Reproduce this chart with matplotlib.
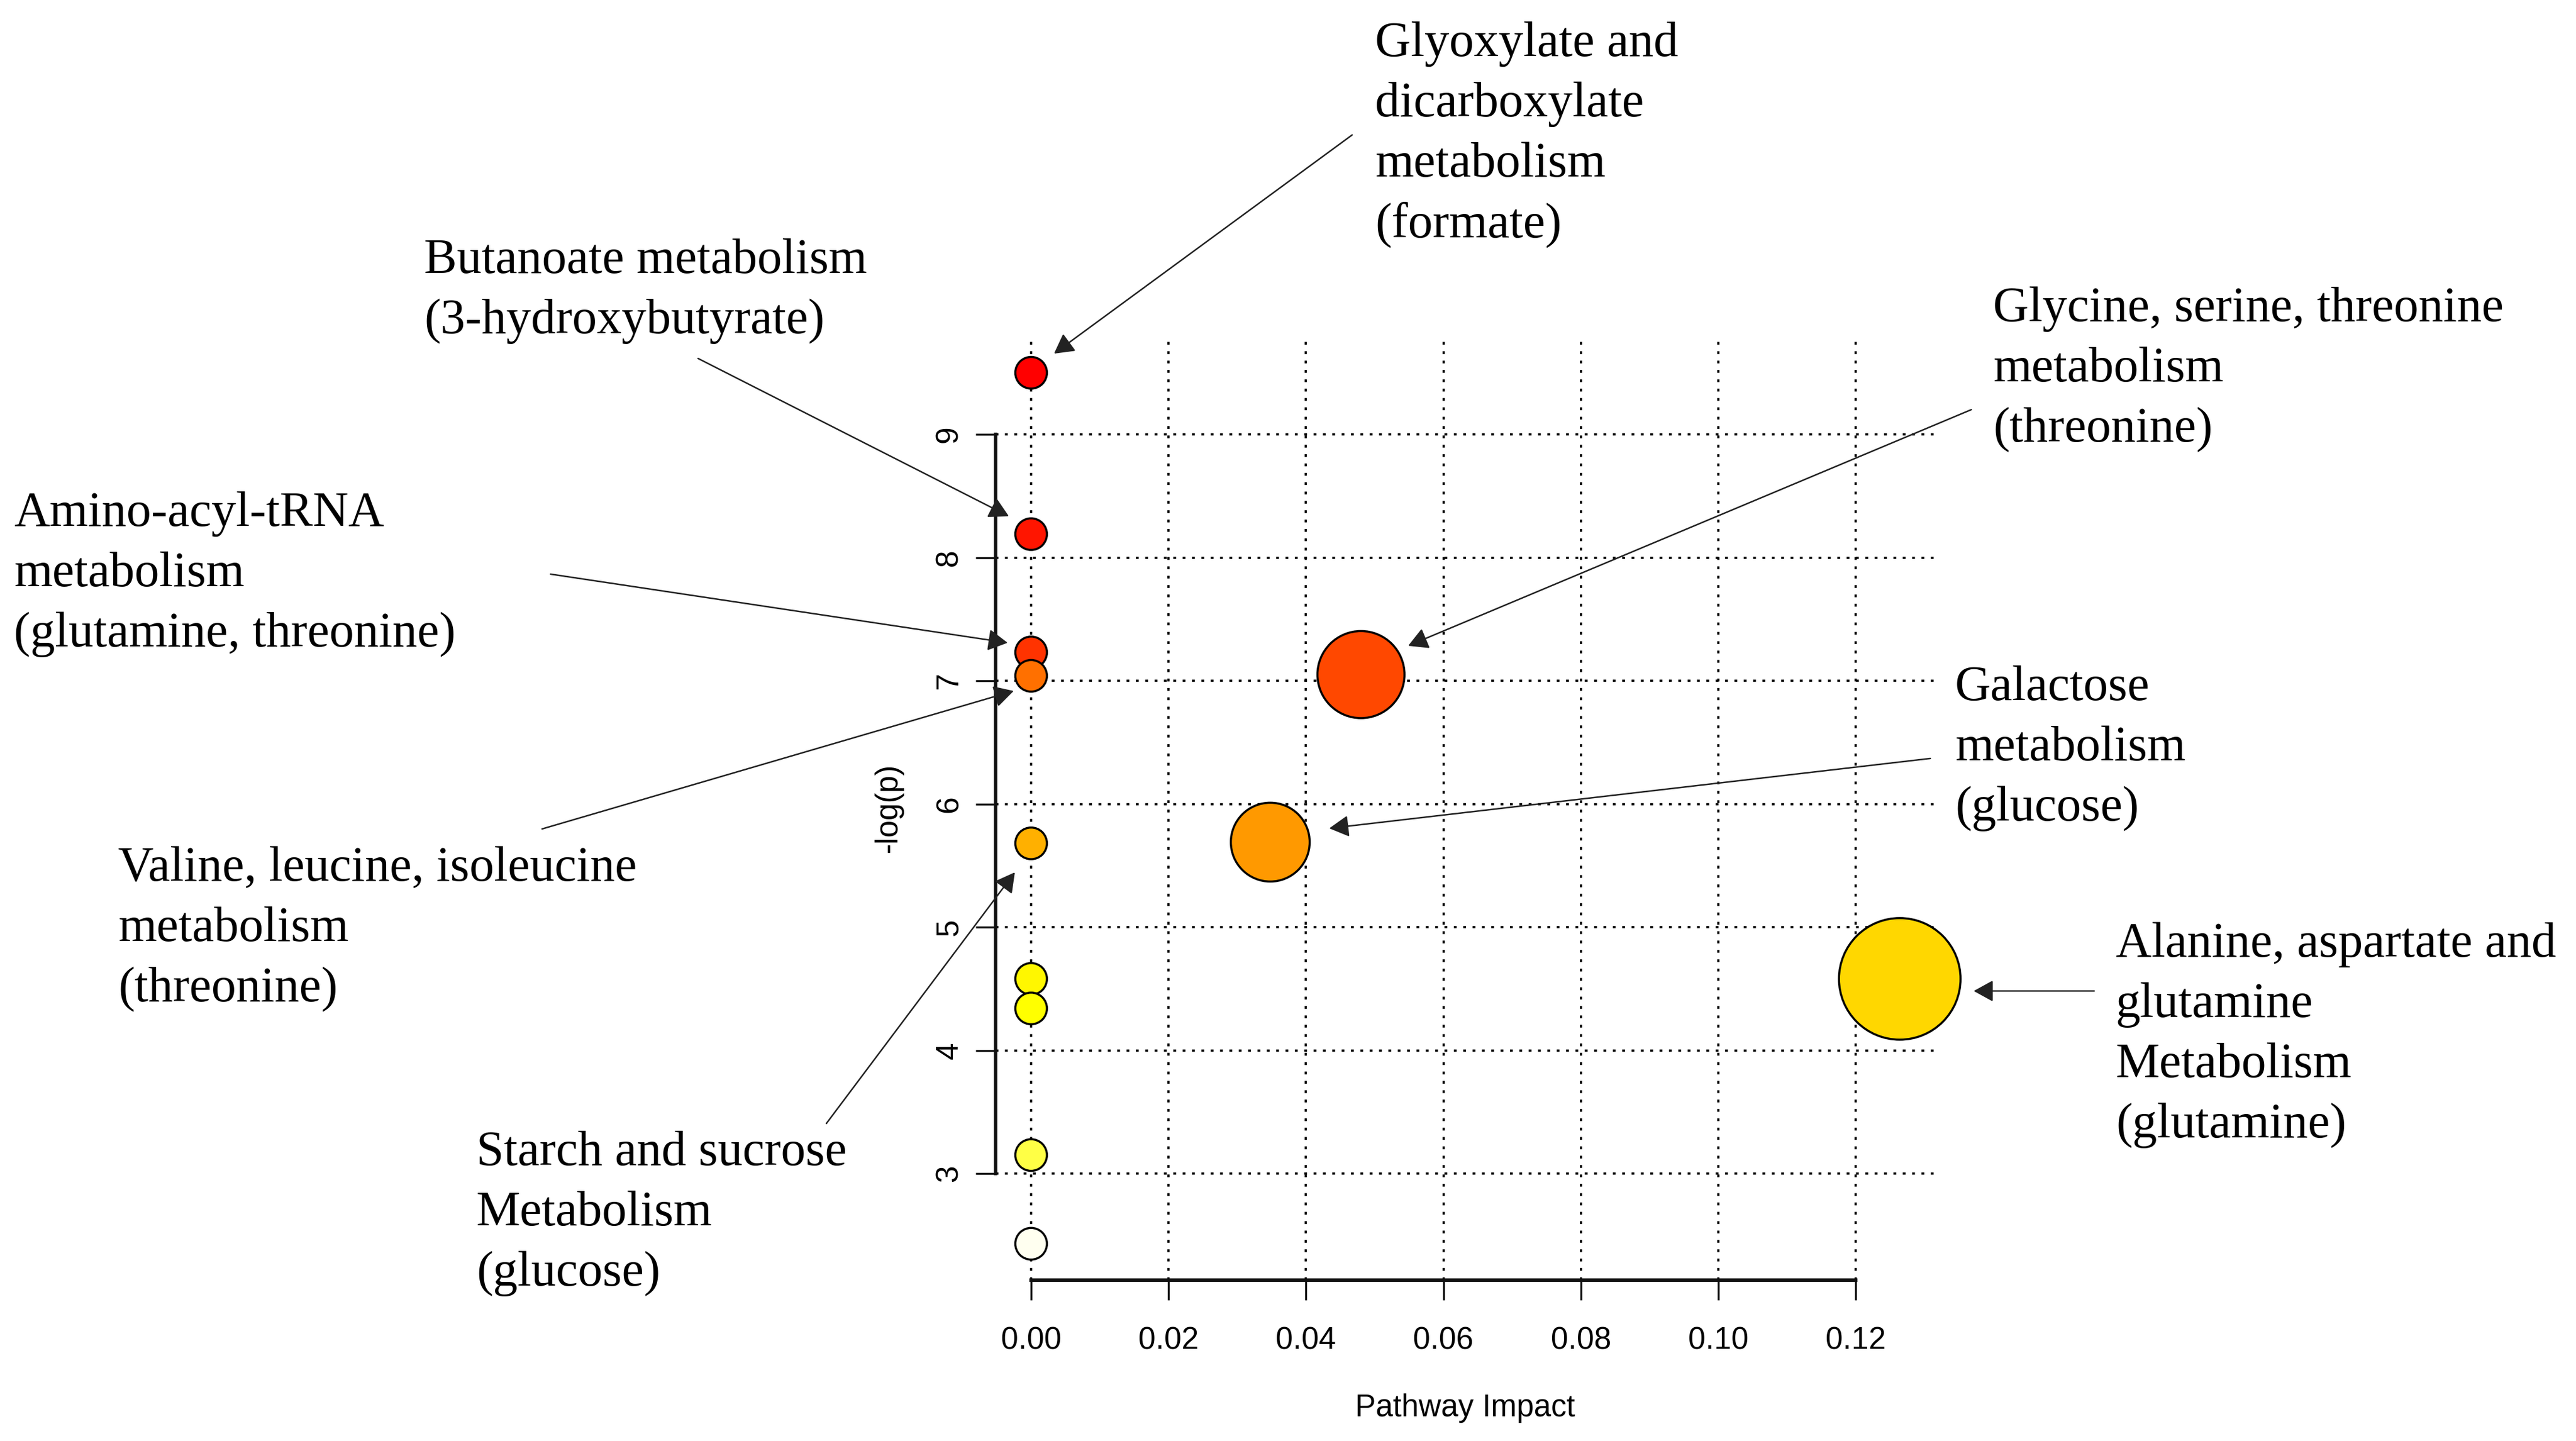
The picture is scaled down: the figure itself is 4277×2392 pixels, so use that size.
import numpy as np
import matplotlib
matplotlib.use("Agg")
import matplotlib.pyplot as plt
from matplotlib.patches import FancyArrowPatch

# ---------------- data ----------------
neg_log_p = [9.50, 8.19, 7.23, 7.05, 7.04, 5.69, 5.68, 4.58, 4.58, 4.34, 3.15, 2.43]
impact    = [0.0, 0.0, 0.0, 0.048, 0.0, 0.0348, 0.0, 0.1264, 0.0, 0.0, 0.0, 0.0]
point_colors = ['#FF0000', '#FF1500', '#FF3300', '#FF4800', '#FF7000', '#FF9900',
                '#FFB000', '#FFD700', '#FFF700', '#FFFF00', '#FFFF45', '#FFFFF0']

x_ticks = [0.00, 0.02, 0.04, 0.06, 0.08, 0.10, 0.12]
x_tick_labels = ['0.00', '0.02', '0.04', '0.06', '0.08', '0.10', '0.12']
y_ticks = [3, 4, 5, 6, 7, 8, 9]
y_tick_labels = ['3', '4', '5', '6', '7', '8', '9']

x_label = 'Pathway Impact'
y_label = '-log(p)'

label_lines = [
    ['Glyoxylate and', 'dicarboxylate', 'metabolism', '(formate)'],
    ['Butanoate metabolism', '(3-hydroxybutyrate)'],
    ['Glycine, serine, threonine', 'metabolism', '(threonine)'],
    ['Amino-acyl-tRNA', 'metabolism', '(glutamine, threonine)'],
    ['Galactose', 'metabolism', '(glucose)'],
    ['Valine, leucine, isoleucine', 'metabolism', '(threonine)'],
    ['Alanine, aspartate and', 'glutamine', 'Metabolism', '(glutamine)'],
    ['Starch and sucrose', 'Metabolism', '(glucose)'],
]

# ---------------- layout (pixels of a 4277 x 2392 canvas) ----------------
W, H = 4277, 2392
DPI = 100
PT = DPI / 72.0

# text block: left x, first baseline y (from top)
label_pos = [(2283, 93), (704, 453), (3309, 533), (23, 873),
             (3246, 1162), (196, 1462), (3513, 1588), (791, 1934)]
line_step = 100
# arrows: tail (x, y) -> tip (x, y), pixels from top-left
arrow_pos = [((2245, 224), (1750, 587)),
             ((1159, 595), (1675, 857)),
             ((3273, 680), (2338, 1072)),
             ((914, 953), (1673, 1067)),
             ((3205, 1259), (2207, 1375)),
             ((900, 1376), (1683, 1147)),
             ((3477, 1645), (3277, 1645)),
             ((1372, 1865), (1685, 1448))]

fig = plt.figure(figsize=(W / DPI, H / DPI), dpi=DPI)
fig.patch.set_facecolor('white')

ax_left, ax_right, ax_top, ax_bottom = 1653, 3218, 557, 2125
ax = fig.add_axes([ax_left / W, 1 - ax_bottom / H,
                   (ax_right - ax_left) / W, (ax_bottom - ax_top) / H])
ax.set_xlim(-0.00517, 0.13199)
ax.set_ylim(2.1345, 9.802)

# grid
ax.set_axisbelow(True)
ax.grid(True, color='black', linestyle=(0, (1.3, 3.0)), linewidth=2.6)

# spines (R style)
for s in ['top', 'right']:
    ax.spines[s].set_visible(False)
ax.spines['left'].set_bounds(3, 9)
ax.spines['bottom'].set_bounds(0, 0.12)
ax.spines['left'].set_linewidth(4.0)
ax.spines['bottom'].set_linewidth(4.2)
ax.spines['left'].set_color('#111111')
ax.spines['bottom'].set_color('#111111')

ax.set_xticks(x_ticks)
ax.set_xticklabels(x_tick_labels, fontfamily='Liberation Sans', fontsize=37)
ax.set_yticks(y_ticks)
ax.set_yticklabels(y_tick_labels, fontfamily='Liberation Sans', fontsize=37,
                   rotation=90, va='center')
ax.tick_params(axis='both', direction='out', length=33 / PT, width=2.4, color='#111111')
ax.tick_params(axis='x', pad=31.5)
ax.tick_params(axis='y', pad=14)

# bubbles
lw_edge = 2.5
sizes = []
for imp in impact:
    r_px = 28 + 210 * np.sqrt(imp)
    d_pt = 2 * r_px / PT - lw_edge
    sizes.append(d_pt ** 2)
x_vals = impact
ax.scatter(x_vals, neg_log_p, s=sizes, c=point_colors, edgecolors='black',
           linewidths=lw_edge, zorder=3, clip_on=False)

# axis titles
fig.text(2433 / W, 1 - 2337 / H, x_label, fontfamily='Liberation Sans', fontsize=37,
         ha='center', va='center')
fig.text(1475 / W, 1 - 1341 / H, y_label, fontfamily='Liberation Sans', fontsize=37,
         rotation=90, ha='center', va='center')

# annotations
for lines, (lx, ly) in zip(label_lines, label_pos):
    for i, ln in enumerate(lines):
        fig.text(lx / W, 1 - (ly + i * line_step) / H, ln,
                 fontfamily='Liberation Serif', fontsize=59,
                 ha='left', va='baseline', color='black')

for (tail, tip) in arrow_pos:
    arr = FancyArrowPatch((tail[0] / W, 1 - tail[1] / H), (tip[0] / W, 1 - tip[1] / H),
                          transform=fig.transFigure,
                          arrowstyle='-|>,head_length=1.0,head_width=0.55',
                          mutation_scale=20, lw=1.8, color='#222222',
                          shrinkA=0, shrinkB=0)
    fig.add_artist(arr)

fig.savefig('out.png', dpi=DPI)
